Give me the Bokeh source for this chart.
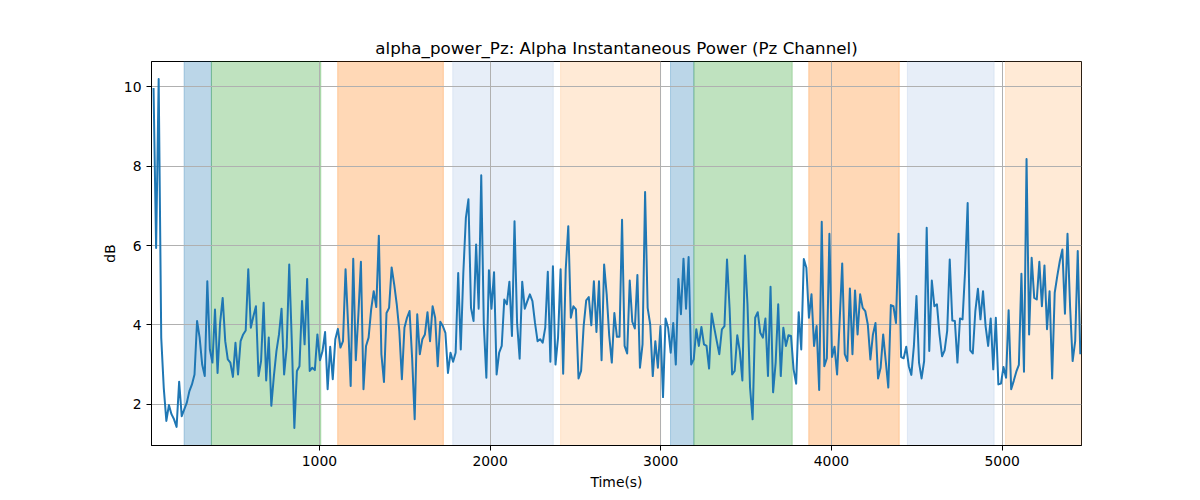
from bokeh.plotting import figure
from bokeh.models import Range1d, FixedTicker
from bokeh.embed import file_html
from bokeh.resources import INLINE

# ---- data -------------------------------------------------------------
t_start = 28
t_step = 15

power_db = [
    9.97, 5.94, 10.2, 3.68, 2.4, 1.58, 1.98, 1.75, 1.62, 1.43,
    2.57, 1.7, 1.87, 2.04, 2.33, 2.5, 2.75, 4.1, 3.68, 3.0,
    2.71, 5.1, 3.38, 3.05, 4.39, 2.79, 4.05, 4.68, 3.59, 3.13,
    3.05, 2.69, 3.55, 2.75, 3.59, 3.76, 3.86, 5.4, 3.93, 4.22,
    4.47, 2.71, 3.09, 4.56, 2.6, 3.68, 1.96, 2.71, 3.34, 3.76,
    4.41, 2.75, 3.43, 5.52, 3.59, 1.4, 2.84, 2.96, 4.6, 3.51,
    5.16, 2.84, 2.92, 2.86, 3.76, 3.11, 3.34, 3.82, 2.38, 3.45,
    2.63, 3.64, 3.9, 3.43, 3.59, 5.4, 4.01, 2.46, 5.67, 3.11,
    4.25, 5.59, 2.38, 3.47, 3.68, 4.39, 4.85, 4.45, 6.25, 3.26,
    2.56, 4.3, 4.43, 5.45, 5.02, 4.52, 3.85, 2.63, 3.93, 4.18,
    4.35, 3.17, 1.62, 4.27, 3.26, 3.64, 3.76, 4.32, 3.59, 4.47,
    4.18, 2.96, 4.08, 3.97, 3.8, 2.79, 3.3, 3.07, 3.3, 5.31,
    3.38, 5.31, 6.7, 7.17, 4.43, 4.1, 6.03, 4.41, 7.77, 4.01,
    2.67, 5.38, 4.41, 5.33, 2.75, 3.3, 3.47, 4.64, 4.52, 5.09,
    3.72, 6.61, 4.05, 3.15, 5.09, 4.41, 4.6, 4.77, 4.6, 4.05,
    3.59, 3.64, 3.55, 3.93, 5.34, 3.07, 5.48, 3.0, 3.68, 5.4,
    2.77, 5.4, 6.49, 4.18, 4.47, 4.39, 2.65, 2.84, 3.97, 4.62,
    4.7, 3.99, 5.1, 3.82, 5.1, 3.11, 5.52, 4.77, 3.72, 3.05,
    4.3, 3.7, 3.7, 6.65, 3.47, 3.28, 5.12, 4.08, 3.91, 5.26,
    2.92,
    3.51, 7.35, 4.43, 4.01, 2.71, 3.59, 2.92, 3.97, 2.18, 4.16,
    3.93, 3.3, 4.05, 3.0, 5.16, 4.27, 5.67, 4.41, 5.71, 3.0,
    3.13, 3.89, 3.47, 3.95, 3.51, 3.47, 2.9, 4.29, 3.93, 3.59,
    3.26, 3.89, 3.97, 5.65, 4.43, 2.75, 2.84, 3.74, 3.34, 2.6,
    5.75, 4.52, 2.42, 1.62, 4.18, 4.32, 3.8, 3.68, 4.16, 2.71,
    4.96, 2.3, 3.05, 4.52, 2.71, 3.93, 3.47, 3.74, 3.72, 2.88,
    2.52, 4.32, 3.38, 5.66, 5.44, 4.18, 4.77, 3.47, 3.97, 2.36,
    6.6, 2.96, 3.16, 6.3, 3.19, 3.45, 2.75, 4.1, 5.55, 3.26,
    3.09, 4.92, 3.26, 4.87, 3.76, 4.77, 4.43, 4.35, 4.01, 3.13,
    3.76, 4.05, 2.65, 2.92, 3.76, 3.09, 2.42, 4.5, 4.47, 4.05,
    6.3, 3.19, 3.16, 3.45, 2.96, 2.74, 3.47, 4.73, 3.05, 2.65,
    3.09, 6.45, 3.34, 5.12, 4.47, 4.52, 3.76, 3.21, 3.36, 3.85,
    5.65, 4.11, 4.1, 3.05, 4.16, 4.14, 5.36, 7.07, 3.36, 3.28,
    4.35, 4.91, 4.14, 4.85, 3.97, 3.47, 4.16, 2.88, 4.18, 2.5,
    2.52, 2.94, 2.67, 4.37, 2.38, 2.59, 2.82, 2.99, 5.29, 2.82,
    8.18, 3.76, 5.69, 4.68, 4.64, 5.59, 4.47, 5.5, 3.89, 4.85,
    2.65, 4.81, 5.23, 5.61, 5.9, 4.28, 6.3, 4.47, 3.09, 3.59,
    5.86, 3.26,
]
time_s = [t_start + t_step * i for i in range(len(power_db))]

span_starts = [207, 367, 1107, 1781, 2413, 3057, 3194, 3867, 4445, 5020]
span_ends = [367, 1008, 1726, 2370, 2999, 3194, 3770, 4397, 4953, 5470]
span_colors = ["#1f77b4", "#2ca02c", "#ff7f0e", "#aec7e8", "#ffbb78",
               "#1f77b4", "#2ca02c", "#ff7f0e", "#aec7e8", "#ffbb78"]

x_ticks = [1000, 2000, 3000, 4000, 5000]
y_ticks = [2, 4, 6, 8, 10]

# ---- figure -----------------------------------------------------------
FONT = "DejaVu Sans"
p = figure(
    frame_width=930, frame_height=384,
    min_border_left=151, min_border_right=119,
    min_border_top=61, min_border_bottom=55,
    x_range=Range1d(16, 5465), y_range=Range1d(0.96, 10.64),
    output_backend="svg", toolbar_location=None,
    title="alpha_power_Pz: Alpha Instantaneous Power (Pz Channel)",
)
p.background_fill_color = "white"
p.border_fill_color = "white"
p.outline_line_color = "black"
p.outline_line_alpha = 1
p.outline_line_width = 1

p.title.text_font = FONT
p.title.text_font_size = "16.7px"
p.title.text_font_style = "normal"
p.title.text_color = "black"
p.title.align = "center"
p.title.standoff = 8

# shaded spans below the grid
p.quad(left=span_starts, right=span_ends, bottom=-100, top=100,
       fill_color=span_colors, fill_alpha=0.3,
       line_color=span_colors, line_alpha=0.3, line_width=1,
       level="image")

p.line(time_s, power_db, line_color="#1f77b4", line_width=2, line_join="round")

for ax in (p.xaxis[0], p.yaxis[0]):
    ax.axis_line_color = "black"
    ax.axis_line_width = 1
    ax.major_tick_line_color = "black"
    ax.major_tick_out = 5
    ax.major_tick_in = 0
    ax.minor_tick_line_color = None
    ax.major_label_text_font = FONT
    ax.major_label_text_font_size = "13.9px"
    ax.major_label_text_color = "black"
    ax.major_label_standoff = 5
    ax.axis_label_text_font = FONT
    ax.axis_label_text_font_size = "13.9px"
    ax.axis_label_text_font_style = "normal"
    ax.axis_label_text_color = "black"

p.xaxis[0].ticker = FixedTicker(ticks=x_ticks)
p.yaxis[0].ticker = FixedTicker(ticks=y_ticks)
p.xaxis[0].axis_label = "Time(s)"
p.yaxis[0].axis_label = "dB"
p.yaxis[0].axis_label_standoff = 3
p.xaxis[0].axis_label_standoff = 5

for g in (p.xgrid[0], p.ygrid[0]):
    g.grid_line_color = "#b0b0b0"
    g.grid_line_width = 1

open("out.html", "w").write(file_html(p, INLINE))
